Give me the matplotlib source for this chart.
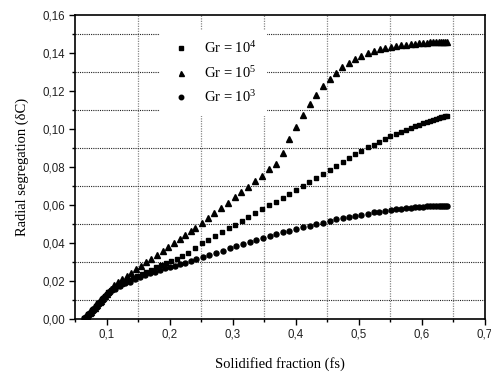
import matplotlib
matplotlib.use("Agg")
import matplotlib.pyplot as plt
from matplotlib.ticker import MultipleLocator, FuncFormatter

# ---- data ----
start_x = [0.065, 0.067, 0.069, 0.071, 0.073, 0.075, 0.077, 0.079, 0.081, 0.083,
           0.085, 0.087, 0.089, 0.091, 0.093, 0.095, 0.097, 0.100]
start_y = [0.0005, 0.0010, 0.0017, 0.0024, 0.0031, 0.0038, 0.0045, 0.0052, 0.0060, 0.0067,
           0.0075, 0.0082, 0.0090, 0.0097, 0.0105, 0.0112, 0.0120, 0.0130]

gr5_x = start_x + [0.103, 0.107, 0.112, 0.118, 0.125, 0.132, 0.139, 0.147, 0.155, 0.163,
                   0.171, 0.180, 0.189, 0.198, 0.207, 0.216, 0.225, 0.234, 0.2405, 0.251,
                   0.261, 0.271, 0.282, 0.292, 0.303, 0.3135, 0.324, 0.336, 0.346, 0.357,
                   0.368, 0.379, 0.390, 0.400, 0.411, 0.422, 0.4325, 0.443, 0.4537, 0.464,
                   0.474, 0.485, 0.494, 0.504, 0.514, 0.5235, 0.533, 0.542, 0.551, 0.559,
                   0.567, 0.575, 0.582, 0.589, 0.596, 0.602, 0.608, 0.613, 0.618, 0.623,
                   0.627, 0.631, 0.634, 0.637, 0.640]
gr5_y = start_y + [0.0142, 0.0158, 0.0178, 0.0193, 0.0210, 0.0227, 0.0244, 0.0263, 0.0281, 0.0299,
                   0.0317, 0.0338, 0.0358, 0.0379, 0.0400, 0.0420, 0.0441, 0.0462, 0.0477, 0.0507,
                   0.0530, 0.0556, 0.0583, 0.0609, 0.0640, 0.0668, 0.0696, 0.0726, 0.0754, 0.0788,
                   0.0815, 0.0872, 0.0946, 0.1012, 0.1074, 0.1131, 0.1180, 0.1226, 0.1263, 0.1297,
                   0.1324, 0.1347, 0.1368, 0.1385, 0.1398, 0.1411, 0.1423, 0.1428, 0.1433, 0.1437,
                   0.1441, 0.1444, 0.1447, 0.1449, 0.1451, 0.1453, 0.1455, 0.1456, 0.1457, 0.1458,
                   0.1459, 0.1459, 0.1460, 0.1460, 0.1460]

gr4_x = start_x + [0.103, 0.107, 0.112, 0.118, 0.124, 0.130, 0.136, 0.142, 0.149, 0.156,
                   0.163, 0.170, 0.178, 0.186, 0.194, 0.202, 0.211, 0.220, 0.229, 0.2405,
                   0.251, 0.2616, 0.272, 0.2829, 0.2934, 0.304, 0.3146, 0.325, 0.3357, 0.346,
                   0.358, 0.3686, 0.379, 0.3897, 0.400, 0.411, 0.4214, 0.432, 0.443, 0.4537,
                   0.464, 0.475, 0.485, 0.4944, 0.504, 0.514, 0.5235, 0.5325, 0.542, 0.550,
                   0.559, 0.5675, 0.575, 0.582, 0.589, 0.596, 0.602, 0.608, 0.613, 0.618,
                   0.623, 0.627, 0.631, 0.634, 0.637, 0.640]
gr4_y = start_y + [0.0141, 0.0152, 0.0162, 0.0174, 0.0185, 0.0195, 0.0205, 0.0215, 0.0226, 0.0237,
                   0.0248, 0.0259, 0.0272, 0.0285, 0.0295, 0.0305, 0.0318, 0.0333, 0.0350, 0.0375,
                   0.0398, 0.0416, 0.0437, 0.0458, 0.0477, 0.0495, 0.0517, 0.0538, 0.0556, 0.0577,
                   0.0600, 0.0617, 0.0638, 0.0660, 0.0679, 0.0700, 0.0721, 0.0740, 0.0762, 0.0783,
                   0.0805, 0.0826, 0.0846, 0.0867, 0.0886, 0.0904, 0.0917, 0.0933, 0.0947, 0.0963,
                   0.0975, 0.0986, 0.0995, 0.1005, 0.1014, 0.1022, 0.1029, 0.1036, 0.1042, 0.1048,
                   0.1053, 0.1058, 0.1062, 0.1065, 0.1067, 0.1069]

gr3_x = start_x + [0.1056, 0.113, 0.121, 0.129, 0.137, 0.145, 0.153, 0.161, 0.169, 0.177,
                   0.185, 0.193, 0.2008, 0.209, 0.217, 0.225, 0.2336, 0.242, 0.2527, 0.263,
                   0.274, 0.2845, 0.295, 0.3056, 0.316, 0.3267, 0.337, 0.348, 0.3584, 0.369,
                   0.3797, 0.390, 0.4008, 0.411, 0.422, 0.4325, 0.443, 0.4537, 0.464, 0.475,
                   0.485, 0.494, 0.504, 0.514, 0.5235, 0.5325, 0.542, 0.551, 0.5595, 0.5675,
                   0.575, 0.582, 0.589, 0.5955, 0.602, 0.608, 0.6135, 0.618, 0.6225, 0.627,
                   0.631, 0.634, 0.637, 0.640]
gr3_y = start_y + [0.0144, 0.0160, 0.0174, 0.0188, 0.0196, 0.0209, 0.0220, 0.0232, 0.0240, 0.0249,
                   0.0258, 0.0266, 0.0272, 0.0279, 0.0288, 0.0296, 0.0305, 0.0316, 0.0328, 0.0339,
                   0.0349, 0.0360, 0.0372, 0.0384, 0.0395, 0.0405, 0.0416, 0.0426, 0.0437, 0.0447,
                   0.0456, 0.0465, 0.0474, 0.0483, 0.0491, 0.0499, 0.0507, 0.0516, 0.0525, 0.0532,
                   0.0537, 0.0542, 0.0547, 0.0554, 0.0561, 0.0565, 0.0570, 0.0574, 0.0577, 0.0580,
                   0.0584, 0.0586, 0.0588, 0.0590, 0.0592, 0.0593, 0.0594, 0.0595, 0.0595, 0.0596,
                   0.0596, 0.0596, 0.0596, 0.0596]

labels = [r"Gr = 10$^{4}$", r"Gr = 10$^{5}$", r"Gr = 10$^{3}$"]
x_label = "Solidified fraction (fs)"
y_label = "Radial segregation (\u03b4C)"

# ---- figure ----
plt.rcParams["mathtext.fontset"] = "custom"
plt.rcParams["mathtext.rm"] = "Liberation Serif"
plt.rcParams["mathtext.it"] = "Liberation Serif:italic"

fig = plt.figure(figsize=(4.91, 3.74), dpi=100)
ax = fig.add_axes([75 / 491, 1 - 319 / 374, 410 / 491, 304 / 374])

ms = 3.4
ax.plot(gr4_x, gr4_y, ls="none", marker="s", ms=ms, color="black", label=labels[0], zorder=3)
ax.plot(gr5_x, gr5_y, ls="none", marker="^", ms=ms + 0.6, color="black", label=labels[1], zorder=3)
ax.plot(gr3_x, gr3_y, ls="none", marker="o", ms=ms + 0.2, color="black", label=labels[2], zorder=3)

ax.set_xlim(0.05, 0.7)
ax.set_ylim(0.0, 0.16)
ax.xaxis.set_major_locator(MultipleLocator(0.1))
ax.xaxis.set_minor_locator(MultipleLocator(0.05))
ax.yaxis.set_major_locator(MultipleLocator(0.02))
ax.yaxis.set_minor_locator(MultipleLocator(0.01))

ax.xaxis.set_major_formatter(FuncFormatter(lambda v, p: f"{v:.1f}".replace(".", ",")))
ax.yaxis.set_major_formatter(FuncFormatter(lambda v, p: f"{v:.2f}".replace(".", ",")))

# dotted grid at the odd (minor-only) positions
ax.grid(False)
for gx in [0.15, 0.25, 0.35, 0.45, 0.55, 0.65]:
    ax.axvline(gx, color="#888888", ls=(0, (1, 1)), lw=0.9, zorder=1)
for gy in [0.01, 0.03, 0.05, 0.07, 0.09, 0.11, 0.13, 0.15]:
    ax.axhline(gy, color="#222222", ls=(0, (1, 1)), lw=0.8, zorder=1)

ax.tick_params(which="major", direction="out", length=4, width=1.0,
               labelsize=8.3, top=False, right=False, pad=3)
ax.tick_params(which="minor", direction="out", length=2.5, width=1.0,
               top=False, right=False)
for lab in ax.get_xticklabels() + ax.get_yticklabels():
    lab.set_fontfamily("Liberation Sans")
    lab.set_color("#222222")
for s in ax.spines.values():
    s.set_linewidth(1.2)

ax.set_xlabel(x_label, fontfamily="Liberation Serif", fontsize=10.5, labelpad=12)
ax.set_ylabel(y_label, fontfamily="Liberation Serif", fontsize=10.5, labelpad=10)

leg = ax.legend(loc="upper left", bbox_to_anchor=(0.19, 0.975), frameon=True,
                fancybox=False, edgecolor="none", facecolor="white", framealpha=1,
                prop={"family": "Liberation Serif", "size": 10.5},
                handlelength=1.4, handletextpad=0.9, labelspacing=0.6,
                borderpad=0.7, markerscale=0.9)
leg.set_zorder(5)

fig.savefig("out.png", dpi=100)
